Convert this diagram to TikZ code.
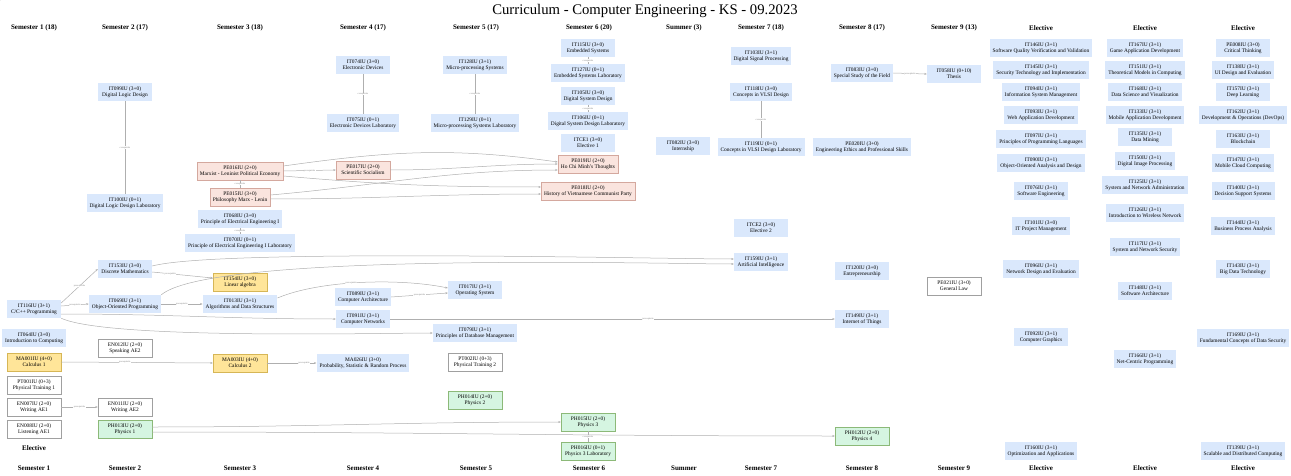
\documentclass[tikz,border=0pt]{standalone}
\usepackage{fontspec}
\setmainfont{Liberation Serif}
\usetikzlibrary{arrows.meta}
\definecolor{cblue}{RGB}{218,232,252}
\definecolor{cpink}{RGB}{250,228,222}
\definecolor{cpinkline}{RGB}{212,168,158}
\definecolor{cgold}{RGB}{255,229,153}
\definecolor{cgoldline}{RGB}{214,182,86}
\definecolor{cmint}{RGB}{213,245,225}
\definecolor{cmintline}{RGB}{140,185,120}
\definecolor{cgenline}{RGB}{160,160,160}
\definecolor{clink}{RGB}{175,175,175}
\begin{document}
\begin{tikzpicture}[x=1pt,y=1pt]
    \tikzstyle{every node}+=[inner sep=0pt]
    \tikzstyle{course}=[rectangle, minimum width=54pt, minimum height=18pt, inner xsep=3pt, align=center, font=\fontsize{5.4}{6.2}\selectfont]
    \tikzstyle{cs}=[course, fill=cblue]
    \tikzstyle{pol}=[course, fill=cpink, draw=cpinkline, line width=0.4pt]
    \tikzstyle{math}=[course, fill=cgold, draw=cgoldline, line width=0.4pt]
    \tikzstyle{phys}=[course, fill=cmint, draw=cmintline, line width=0.4pt]
    \tikzstyle{gen}=[course, fill=white, draw=cgenline, line width=0.4pt]
    \tikzstyle{head}=[font=\fontsize{7}{8}\selectfont\bfseries]
    \tikzstyle{title}=[font=\fontsize{14.7}{16}\selectfont]
    \tikzstyle{link}=[draw=clink, line width=0.5pt, -{Stealth[length=2.5pt,width=2pt]}]
    \tikzstyle{tie}=[draw=clink, line width=0.5pt]
    \tikzstyle{lbl}=[font=\fontsize{2.4}{2.6}\selectfont, text=gray, fill=white, inner sep=0.4pt]
    \useasboundingbox (0,0) rectangle (1291,-476);
    \node[title] (title) at (645,-11) {Curriculum - Computer Engineering - KS - 09.2023};
    \node[head] (h1) at (34,-28) {Semester 1 (18)};
    \node[head] (h2) at (125,-28) {Semester 2 (17)};
    \node[head] (h3) at (240,-28) {Semester 3 (18)};
    \node[head] (h4) at (363,-28) {Semester 4 (17)};
    \node[head] (h5) at (476,-28) {Semester 5 (17)};
    \node[head] (h6) at (589,-28) {Semester 6 (20)};
    \node[head] (h7) at (684,-28) {Summer (3)};
    \node[head] (h8) at (761,-28) {Semester 7 (18)};
    \node[head] (h9) at (862,-28) {Semester 8 (17)};
    \node[head] (h10) at (954,-28) {Semester 9 (13)};
    \node[head] (h11) at (1041,-28) {Elective};
    \node[head] (h12) at (1145,-28) {Elective};
    \node[head] (h13) at (1243,-28) {Elective};
    \node[head] (f1) at (34,-468) {Semester 1};
    \node[head] (f2) at (125,-468) {Semester 2};
    \node[head] (f3) at (240,-468) {Semester 3};
    \node[head] (f4) at (363,-468) {Semester 4};
    \node[head] (f5) at (476,-468) {Semester 5};
    \node[head] (f6) at (589,-468) {Semester 6};
    \node[head] (f7) at (684,-468) {Summer};
    \node[head] (f8) at (761,-468) {Semester 7};
    \node[head] (f9) at (862,-468) {Semester 8};
    \node[head] (f10) at (954,-468) {Semester 9};
    \node[head] (f11) at (1041,-468) {Elective};
    \node[head] (f12) at (1145,-468) {Elective};
    \node[head] (f13) at (1243,-468) {Elective};
    % semester 1
    \node[cs] (cpp) at (34,-309) {IT116IU (3+1)\\C/C++ Programming};
    \node[cs] (intro) at (34,-338) {IT064IU (3+0)\\Introduction to Computing};
    \node[math] (calc1) at (34,-362) {MA001IU (4+0)\\Calculus 1};
    \node[gen] (pt1) at (34,-385) {PT001IU (0+3)\\Physical Training 1};
    \node[gen] (wae1) at (34,-407) {EN007IU (2+0)\\Writing AE1};
    \node[gen] (lae1) at (34,-429) {EN008IU (2+0)\\Listening AE1};
    \node[head] (elec1) at (34,-448) {Elective};
    % semester 2
    \node[cs] (dld) at (125,-92) {IT099IU (3+0)\\Digital Logic Design};
    \node[cs] (dldl) at (125,-203) {IT100IU (0+1)\\Digital Logic Design Laboratory};
    \node[cs] (dm) at (125,-269) {IT153IU (3+0)\\Discrete Mathematics};
    \node[cs] (oop) at (125,-304) {IT069IU (3+1)\\Object-Oriented Programming};
    \node[gen] (sae2) at (125,-348) {EN012IU (2+0)\\Speaking AE2};
    \node[gen] (wae2) at (125,-407) {EN011IU (2+0)\\Writing AE2};
    \node[phys] (ph1) at (125,-429) {PH013IU (2+0)\\Physics 1};
    % semester 3
    \node[pol] (marx) at (240,-171) {PE016IU (2+0)\\Marxist - Leninist Political Economy};
    \node[pol] (phil) at (240,-197) {PE015IU (3+0)\\Philosophy Marx - Lenin};
    \node[cs] (pee) at (240,-219) {IT068IU (3+0)\\Principle of Electrical Engineering I};
    \node[cs] (peel) at (240,-243) {IT070IU (0+1)\\Principle of Electrical Engineering I Laboratory};
    \node[math] (la) at (240,-282) {IT154IU (3+0)\\Linear algebra};
    \node[cs] (alg) at (240,-304) {IT013IU (3+1)\\Algorithms and Data Structures};
    \node[math] (calc2) at (240,-363) {MA003IU (4+0)\\Calculus 2};
    % semester 4
    \node[cs] (ed) at (363,-65) {IT074IU (3+0)\\Electronic Devices};
    \node[cs] (edl) at (363,-123) {IT075IU (0+1)\\Electronic Devices Laboratory};
    \node[pol] (soc) at (363,-170) {PE017IU (2+0)\\Scientific Socialism};
    \node[cs] (ca) at (363,-297) {IT089IU (3+1)\\Computer Architecture};
    \node[cs] (cn) at (363,-319) {IT091IU (3+1)\\Computer Networks};
    \node[cs] (prob) at (363,-363) {MA026IU (3+0)\\Probability, Statistic \& Random Process};
    % semester 5
    \node[cs] (mps) at (475,-65) {IT128IU (3+1)\\Micro-processing Systems};
    \node[cs] (mpsl) at (475,-123) {IT129IU (0+1)\\Micro-processing Systems Laboratory};
    \node[cs] (os) at (475,-290) {IT017IU (3+1)\\Operating System};
    \node[cs] (db) at (475,-333) {IT079IU (3+1)\\Principles of Database Management};
    \node[gen] (pt2) at (475,-362) {PT002IU (0+3)\\Physical Training 2};
    \node[phys] (ph2) at (475,-400) {PH014IU (2+0)\\Physics 2};
    % semester 6
    \node[cs] (es) at (588,-48) {IT115IU (3+0)\\Embedded Systems};
    \node[cs] (esl) at (588,-73) {IT127IU (0+1)\\Embedded Systems Laboratory};
    \node[cs] (dsd) at (588,-96) {IT105IU (3+0)\\Digital System Design};
    \node[cs] (dsdl) at (588,-121) {IT106IU (0+1)\\Digital System Design Laboratory};
    \node[cs] (el1) at (588,-143) {ITCE1 (3+0)\\Elective 1};
    \node[pol] (hcm) at (588,-164) {PE019IU (2+0)\\Ho Chi Minh's Thoughts};
    \node[pol] (hist) at (588,-191) {PE018IU (2+0)\\History of Vietnamese Communist Party};
    \node[phys] (ph3) at (588,-422) {PH015IU (2+0)\\Physics 3};
    \node[phys] (ph3l) at (588,-451) {PH016IU (0+1)\\Physics 3 Laboratory};
    % summer
    \node[cs] (intern) at (683,-146) {IT082IU (3+0)\\Internship};
    % semester 7
    \node[cs] (dsp) at (761,-56) {IT103IU (3+1)\\Digital Signal Processing};
    \node[cs] (vlsi) at (761,-92) {IT118IU (3+0)\\Concepts in VLSI Design};
    \node[cs] (vlsil) at (761,-147) {IT119IU (0+1)\\Concepts in VLSI Design Laboratory};
    \node[cs] (el2) at (761,-228) {ITCE2 (3+0)\\Elective 2};
    \node[cs] (ai) at (761,-262) {IT159IU (3+1)\\Artificial Intelligence};
    % semester 8
    \node[cs] (ssf) at (862,-73) {IT083IU (3+0)\\Special Study of the Field};
    \node[cs] (ethic) at (862,-147) {PE020IU (3+0)\\Engineering Ethics and Professional Skills};
    \node[cs] (entre) at (862,-271) {IT120IU (3+0)\\Entrepreneurship};
    \node[cs] (iot) at (862,-319) {IT149IU (3+1)\\Internet of Things};
    \node[phys] (ph4) at (862,-436) {PH012IU (2+0)\\Physics 4};
    % semester 9
    \node[cs] (thesis) at (954,-74) {IT058IU (0+10)\\Thesis};
    \node[gen] (law) at (954,-286) {PE021IU (3+0)\\General Law};
    % electives
    \node[cs] (sqv) at (1041,-48) {IT146IU (3+1)\\Software Quality Verification and Validation};
    \node[cs] (sti) at (1041,-70) {IT145IU (3+1)\\Security Technology and Implementation};
    \node[cs] (ism) at (1041,-92) {IT094IU (3+1)\\Information System Management};
    \node[cs] (wad) at (1041,-115) {IT093IU (3+1)\\Web Application Development};
    \node[cs] (ppl) at (1041,-139) {IT097IU (3+1)\\Principles of Programming Languages};
    \node[cs] (ooad) at (1041,-163) {IT090IU (3+1)\\Object-Oriented Analysis and Design};
    \node[cs] (se) at (1041,-191) {IT076IU (3+1)\\Software Engineering};
    \node[cs] (itpm) at (1041,-226) {IT101IU (3+0)\\IT Project Management};
    \node[cs] (nde) at (1041,-269) {IT096IU (3+1)\\Network Design and Evaluation};
    \node[cs] (cg) at (1041,-337) {IT092IU (3+1)\\Computer Graphics};
    \node[cs] (opt) at (1041,-451) {IT160IU (3+1)\\Optimization and Applications};
    \node[cs] (game) at (1145,-48) {IT167IU (3+1)\\Game Application Development};
    \node[cs] (tmc) at (1145,-70) {IT151IU (3+1)\\Theoretical Models in Computing};
    \node[cs] (dsv) at (1145,-92) {IT168IU (3+1)\\Data Science and Visualization};
    \node[cs] (mad) at (1145,-115) {IT133IU (3+1)\\Mobile Application Development};
    \node[cs] (dmin) at (1145,-137) {IT135IU (3+1)\\Data Mining};
    \node[cs] (dip) at (1145,-161) {IT150IU (3+1)\\Digital Image Processing};
    \node[cs] (sna) at (1145,-185) {IT125IU (3+1)\\System and Network Administration};
    \node[cs] (iwn) at (1145,-213) {IT126IU (3+1)\\Introduction to Wireless Network};
    \node[cs] (sns) at (1145,-247) {IT117IU (3+1)\\System and Network Security};
    \node[cs] (sa) at (1145,-291) {IT148IU (3+1)\\Software Architecture};
    \node[cs] (ncp) at (1145,-359) {IT166IU (3+1)\\Net-Centric Programming};
    \node[cs] (ct) at (1243,-48) {PE008IU (3+0)\\Critical Thinking};
    \node[cs] (uid) at (1243,-70) {IT138IU (3+1)\\UI Design and Evaluation};
    \node[cs] (dl) at (1243,-92) {IT157IU (3+1)\\Deep Learning};
    \node[cs] (devops) at (1243,-115) {IT162IU (3+1)\\Development \& Operations (DevOps)};
    \node[cs] (bc) at (1243,-139) {IT163IU (3+1)\\Blockchain};
    \node[cs] (mcc) at (1243,-163) {IT147IU (3+1)\\Mobile Cloud Computing};
    \node[cs] (dss) at (1243,-191) {IT140IU (3+1)\\Decision Support Systems};
    \node[cs] (bpa) at (1243,-226) {IT144IU (3+1)\\Business Process Analysis};
    \node[cs] (bdt) at (1243,-269) {IT143IU (3+1)\\Big Data Technology};
    \node[cs] (fcds) at (1243,-338) {IT169IU (3+1)\\Fundamental Concepts of Data Security};
    \node[cs] (sdc) at (1243,-451) {IT139IU (3+1)\\Scalable and Distributed Computing};
    % co-requisites
    \draw[tie] (dld) -- (dldl) node[lbl,midway] {corequisite};
    \draw[tie] (marx) -- (phil) node[lbl,midway] {corequisite};
    \draw[tie] (pee) -- (peel) node[lbl,midway] {corequisite};
    \draw[tie] (ed) -- (edl) node[lbl,midway] {corequisite};
    \draw[tie] (mps) -- (mpsl) node[lbl,midway] {corequisite};
    \draw[tie] (es) -- (esl) node[lbl,midway] {corequisite};
    \draw[tie] (dsd) -- (dsdl) node[lbl,midway] {corequisite};
    \draw[tie] (vlsi) -- (vlsil) node[lbl,midway] {corequisite};
    \draw[tie] (ph3) -- (ph3l) node[lbl,midway] {corequisite};
    % prerequisites
    \draw[link] ([yshift=6pt]cpp.east) -- (dm.west) node[lbl,midway] {prerequisite};
    \draw[link] ([yshift=3pt]cpp.east) -- (oop.west) node[lbl,midway] {prerequisite};
    \draw[link] ([yshift=-5pt]cpp.east) to[out=0,in=180] (cn.west) node[lbl,pos=0.4] {prerequisite};
    \draw[link] (cpp.south east) to[out=-25,in=180,looseness=0.35] (db.west) node[lbl,pos=0.47] {prerequisite};
    \draw[link] ([yshift=3pt]dm.east) to[out=15,in=180,looseness=0.3] ([yshift=3pt]ai.west) node[lbl,pos=0.55] {prerequisite};
    \draw[link] (oop.north east) to[out=40,in=180,looseness=0.3] ([yshift=-2pt]ai.west) node[lbl,pos=0.55] {prerequisite};
    \draw[link] ([yshift=-3pt]dm.east) -- ([yshift=4pt]la.west) node[lbl,pos=0.3] {prerequisite};
    \draw[link] (oop.east) -- (alg.west) node[lbl,midway] {prerequisite};
    \draw[link] ([yshift=6pt]alg.east) .. controls (320,-280) and (400,-278) .. ([yshift=2pt]os.west) node[lbl,pos=0.45] {prerequisite};
    \draw[link] (ca.east) -- ([yshift=-3pt]os.west) node[lbl,midway] {prerequisite};
    \draw[link] (cn.east) -- (iot.west) node[lbl,pos=0.58] {prerequisite};
    \draw[link] (calc1.east) -- (calc2.west) node[lbl,pos=0.42] {prerequisite};
    \draw[link] (calc2.east) -- (prob.west) node[lbl,pos=0.75] {prerequisite};
    \draw[link] (wae1.east) -- (wae2.west) node[lbl,midway] {prerequisite};
    \draw[link] ([yshift=2pt]ph1.east) to[out=0,in=180] (ph3.west) node[lbl,pos=0.5] {prerequisite};
    \draw[link] ([yshift=-3pt]ph1.east) to[out=0,in=180] (ph4.west) node[lbl,pos=0.55] {prerequisite};
    \draw[link] (ssf.east) -- (thesis.west) node[lbl,midway] {prerequisite};
    \draw[link] (marx.east) -- (soc.west) node[lbl,midway] {prerequisite};
    \draw[link] ([yshift=5pt]marx.east) to[out=8,in=172] ([yshift=2pt]hcm.west) node[lbl,pos=0.5] {prerequisite};
    \draw[link] (soc.east) to[out=0,in=180] (hcm.west) node[lbl,pos=0.5] {prerequisite};
    \draw[link] ([yshift=2pt]phil.east) to[out=5,in=180] ([yshift=-6pt]hcm.west) node[lbl,pos=0.7] {prerequisite};
    \draw[link] ([yshift=-5pt]marx.east) to[out=-5,in=180] ([yshift=4pt]hist.west) node[lbl,pos=0.55] {prerequisite};
    \draw[link] ([yshift=-2pt]phil.east) to[out=0,in=180] ([yshift=-3pt]hist.west) node[lbl,pos=0.55] {prerequisite};
\end{tikzpicture}
\end{document}
